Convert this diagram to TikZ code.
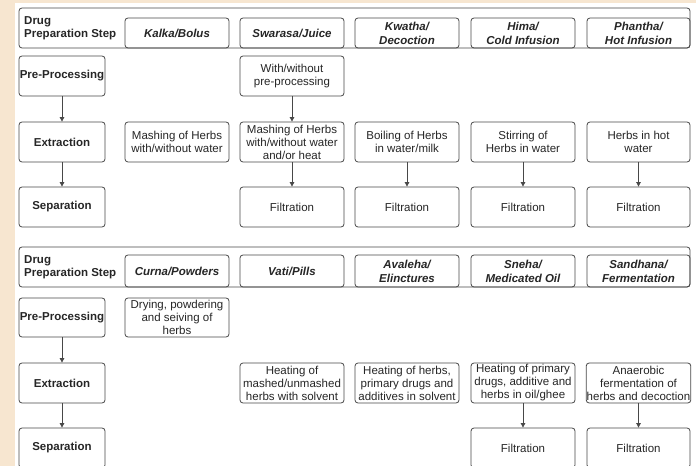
\documentclass[tikz,border=0pt]{standalone}
\usepackage{fontspec}
\setmainfont{Liberation Sans}
\usetikzlibrary{arrows.meta}
\definecolor{beige}{RGB}{247,230,208}
\definecolor{edge}{RGB}{72,72,72}
\begin{document}
\begin{tikzpicture}[x=1bp,y=-1bp,
  box/.style={draw=edge, line width=0.8bp, rounded corners=3bp, minimum width=104bp, minimum height=40bp,
    inner sep=0.5bp, align=center, text=black!85, font=\fontsize{11.5bp}{13bp}\selectfont},
  lbox/.style={box, minimum width=86bp, font=\fontsize{11.5bp}{13bp}\selectfont\bfseries},
  hbox/.style={box, font=\fontsize{11.5bp}{14bp}\selectfont\bfseries\itshape},
  outer/.style={draw=edge, line width=0.8bp, rounded corners=3bp, minimum width=671bp, minimum height=40bp, inner sep=0},
  ttl/.style={align=left, anchor=west, inner sep=0, text=black!85, font=\fontsize{11.5bp}{13bp}\selectfont\bfseries},
  arr/.style={draw=edge, line width=0.8bp, -{Triangle[length=4.5bp,width=4.5bp]}}]
\useasboundingbox (0,0) rectangle (696,466);
\clip (0,0) rectangle (696,466);
\fill[white] (0,0) rectangle (696,466);
\fill[beige] (0,0) rectangle (15,466);
\fill[beige] (0,0) rectangle (696,3);

% ---------- top section ----------
\node[outer] (h1) at (354.5,28) {};
\node[ttl] (t1) at (24,28) {Drug\\Preparation Step};
\node[hbox, minimum height=30bp] (a1) at (177,33) {Kalka/Bolus};
\node[hbox, minimum height=30bp] (a2) at (292,33) {Swarasa/Juice};
\node[hbox, minimum height=30bp] (a3) at (407,33) {Kwatha/\\Decoction};
\node[hbox, minimum height=30bp] (a4) at (523,33) {Hima/\\Cold Infusion};
\node[hbox, minimum height=30bp, minimum width=103bp] (a5) at (638.5,33) {Phantha/\\Hot Infusion};

\node[lbox] (pp1) at (62,76) {Pre-Processing};
\node[box] (p2) at (292,76) {With/without\\pre-processing};

\node[lbox] (ex1) at (62,142) {Extraction};
\node[box] (e1) at (177,142) {Mashing of Herbs\\with/without water};
\node[box] (e2) at (292,142) {Mashing of Herbs\\with/without water\\and/or heat};
\node[box] (e3) at (407,142) {Boiling of Herbs\\in water/milk};
\node[box] (e4) at (523,142) {Stirring of\\Herbs in water};
\node[box, minimum width=103bp] (e5) at (638.5,142) {Herbs in hot\\water};

\node[lbox] (sp1) at (62,207) {Separation};
\node[box] (s2) at (292,207) {Filtration};
\node[box] (s3) at (407,207) {Filtration};
\node[box] (s4) at (523,207) {Filtration};
\node[box, minimum width=103bp] (s5) at (638.5,207) {Filtration};

\draw[arr] (pp1) -- (ex1);
\draw[arr] (ex1) -- (sp1);
\draw[arr] (p2) -- (e2);
\draw[arr] (e2) -- (s2);
\draw[arr] (e3) -- (s3);
\draw[arr] (e4) -- (s4);
\draw[arr] (e5) -- (s5);

% ---------- bottom section ----------
\node[outer] (h2) at (354.5,267) {};
\node[ttl] (t2) at (24,267) {Drug\\Preparation Step};
\node[hbox, minimum height=32bp] (b1) at (177,271) {Curna/Powders};
\node[hbox, minimum height=32bp] (b2) at (292,271) {Vati/Pills};
\node[hbox, minimum height=32bp] (b3) at (407,271) {Avaleha/\\Elinctures};
\node[hbox, minimum height=32bp] (b4) at (523,271) {Sneha/\\Medicated Oil};
\node[hbox, minimum height=32bp, minimum width=103bp] (b5) at (638.5,271) {Sandhana/\\Fermentation};

\node[lbox, minimum height=39bp] (pp2) at (62,317.5) {Pre-Processing};
\node[box, minimum height=39bp] (q1) at (177,317.5) {Drying, powdering\\and seiving of\\herbs};

\node[lbox] (ex2) at (62,383) {Extraction};
\node[box] (f2) at (292,383) {Heating of\\mashed/unmashed\\herbs with solvent};
\node[box] (f3) at (407,383) {Heating of herbs,\\primary drugs and\\additives in solvent};
\node[box] (f4) at (523,383) {Heating of primary\\drugs, additive and\\herbs in oil/ghee};
\node[box, minimum width=103bp] (f5) at (638.5,383) {Anaerobic\\fermentation of\\herbs and decoction};

\node[lbox] (sp2) at (62,448) {Separation};
\node[box] (r4) at (523,448) {Filtration};
\node[box, minimum width=103bp] (r5) at (638.5,448) {Filtration};

\draw[arr] (pp2) -- (ex2);
\draw[arr] (ex2) -- (sp2);
\draw[arr] (f4) -- (r4);
\draw[arr] (f5) -- (r5);
\end{tikzpicture}
\end{document}
